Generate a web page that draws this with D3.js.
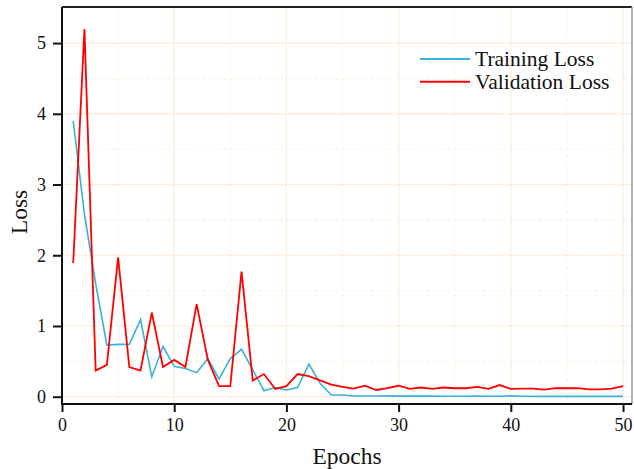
<!DOCTYPE html>
<html>
<head>
<meta charset="utf-8">
<script src="https://cdn.jsdelivr.net/npm/d3@7"></script>
<style>
  html, body { margin: 0; padding: 0; background: #fff; }
  svg { display: block; }
  text { font-family: "Liberation Serif", "Times New Roman", serif; fill: #111; }
</style>
</head>
<body>
<svg id="chart" width="634" height="469"></svg>
<script>
// Loss per epoch for a training run
const epochs = d3.range(1, 51);
const trainingLoss = [
  3.90, 2.58, 1.60, 0.73, 0.74, 0.74, 1.09, 0.28, 0.71, 0.43,
  0.40, 0.34, 0.54, 0.25, 0.54, 0.67, 0.38, 0.085, 0.13, 0.095,
  0.13, 0.46, 0.19, 0.025, 0.025, 0.01, 0.01, 0.01, 0.012, 0.008,
  0.008, 0.008, 0.008, 0.006, 0.006, 0.006, 0.008, 0.006, 0.006, 0.012,
  0.006, 0.005, 0.005, 0.005, 0.005, 0.005, 0.005, 0.005, 0.005, 0.005
];
const validationLoss = [
  1.89, 5.20, 0.37, 0.45, 1.97, 0.42, 0.37, 1.19, 0.42, 0.52,
  0.42, 1.31, 0.52, 0.15, 0.15, 1.77, 0.23, 0.32, 0.11, 0.15,
  0.32, 0.29, 0.23, 0.17, 0.14, 0.115, 0.155, 0.095, 0.12, 0.155,
  0.11, 0.13, 0.11, 0.13, 0.12, 0.12, 0.14, 0.11, 0.165, 0.11,
  0.115, 0.115, 0.10, 0.12, 0.12, 0.12, 0.105, 0.105, 0.115, 0.15
];
const xTicks = [0, 10, 20, 30, 40, 50];
const yTicks = [0, 1, 2, 3, 4, 5];
const xMinor = [5, 15, 25, 35, 45];
const yMinor = [0.5, 1.5, 2.5, 3.5, 4.5];
const seriesNames = ["Training Loss", "Validation Loss"];
const seriesColors = ["#38b2d6", "#ff0000"];

const serif = "'Liberation Serif', 'Times New Roman', serif";
const svg = d3.select("#chart");
const plotL = 62, plotR = 632, plotT = 7, plotB = 404;

const x = d3.scaleLinear().domain([0, 50.8]).range([plotL, plotR]);
const y = d3.scaleLinear().domain([-0.103, 5.51]).range([plotB, plotT]);

// grid: solid at major ticks, dashed halfway between
const grid = svg.append("g");
grid.selectAll(".gx").data(xTicks).join("line")
  .attr("x1", d => x(d)).attr("x2", d => x(d)).attr("y1", plotT).attr("y2", plotB)
  .attr("stroke", "#fbedd6").attr("stroke-width", 1.2);
grid.selectAll(".gy").data(yTicks).join("line")
  .attr("y1", d => y(d)).attr("y2", d => y(d)).attr("x1", plotL).attr("x2", plotR)
  .attr("stroke", "#fbedd6").attr("stroke-width", 1.2);
grid.selectAll(".mx").data(xMinor).join("line")
  .attr("x1", d => x(d)).attr("x2", d => x(d)).attr("y1", plotT).attr("y2", plotB)
  .attr("stroke", "#fcf1de").attr("stroke-width", 1).attr("stroke-dasharray", "4,3");
grid.selectAll(".my").data(yMinor).join("line")
  .attr("y1", d => y(d)).attr("y2", d => y(d)).attr("x1", plotL).attr("x2", plotR)
  .attr("stroke", "#fcf1de").attr("stroke-width", 1).attr("stroke-dasharray", "4,3");

// loss curves
const line = d3.line().x((d, i) => x(epochs[i])).y(d => y(d));
[trainingLoss, validationLoss].forEach((vals, k) => {
  svg.append("path").datum(vals)
    .attr("d", line)
    .attr("fill", "none")
    .attr("stroke", seriesColors[k])
    .attr("stroke-width", k === 0 ? 1.6 : 1.8)
    .attr("stroke-linejoin", "miter");
});

// frame
svg.append("line").attr("x1", plotL).attr("x2", plotR).attr("y1", plotT).attr("y2", plotT)
  .attr("stroke", "#222").attr("stroke-width", 2);
svg.append("line").attr("x1", plotR).attr("x2", plotR).attr("y1", plotT).attr("y2", plotB)
  .attr("stroke", "#999").attr("stroke-width", 1.5);

// axes
const xAxis = svg.append("g").attr("transform", `translate(0,${plotB})`)
  .call(d3.axisBottom(x).tickValues(xTicks).tickFormat(d3.format("d"))
    .tickSize(8).tickPadding(6).tickSizeOuter(0));
const yAxis = svg.append("g").attr("transform", `translate(${plotL},0)`)
  .call(d3.axisLeft(y).tickValues(yTicks).tickFormat(d3.format("d"))
    .tickSize(9).tickPadding(7).tickSizeOuter(0));
[xAxis, yAxis].forEach(g => {
  g.attr("font-family", serif).attr("font-size", 18);
  g.select(".domain").attr("stroke", "#111").attr("stroke-width", 2);
  g.selectAll(".tick line").attr("stroke", "#111").attr("stroke-width", 2);
  g.selectAll(".tick text")
    .style("font-family", serif)
    .style("font-size", "18px").attr("fill", "#111");
});
yAxis.select(".domain").attr("d", `M0,${plotT}V${plotB + 1}`);
xAxis.select(".domain").attr("d", `M${plotL - 1},0H${plotR}`);

// axis titles
svg.append("text").attr("x", (plotL + plotR) / 2).attr("y", 464)
  .attr("text-anchor", "middle").style("font-family", serif).style("font-size", "23.5px").text("Epochs");
svg.append("text").attr("transform", `translate(27,212) rotate(-90)`)
  .attr("text-anchor", "middle").style("font-family", serif).style("font-size", "23.5px").text("Loss");

// legend
const legend = svg.append("g");
seriesNames.forEach((name, k) => {
  const ly = 59 + k * 22.7;
  legend.append("line").attr("x1", 420).attr("x2", 470).attr("y1", ly).attr("y2", ly)
    .attr("stroke", seriesColors[k]).attr("stroke-width", 2);
  legend.append("text").attr("x", 475).attr("y", ly + 7)
    .style("font-family", serif).style("font-size", "21.5px").text(name);
});
</script>
</body>
</html>
